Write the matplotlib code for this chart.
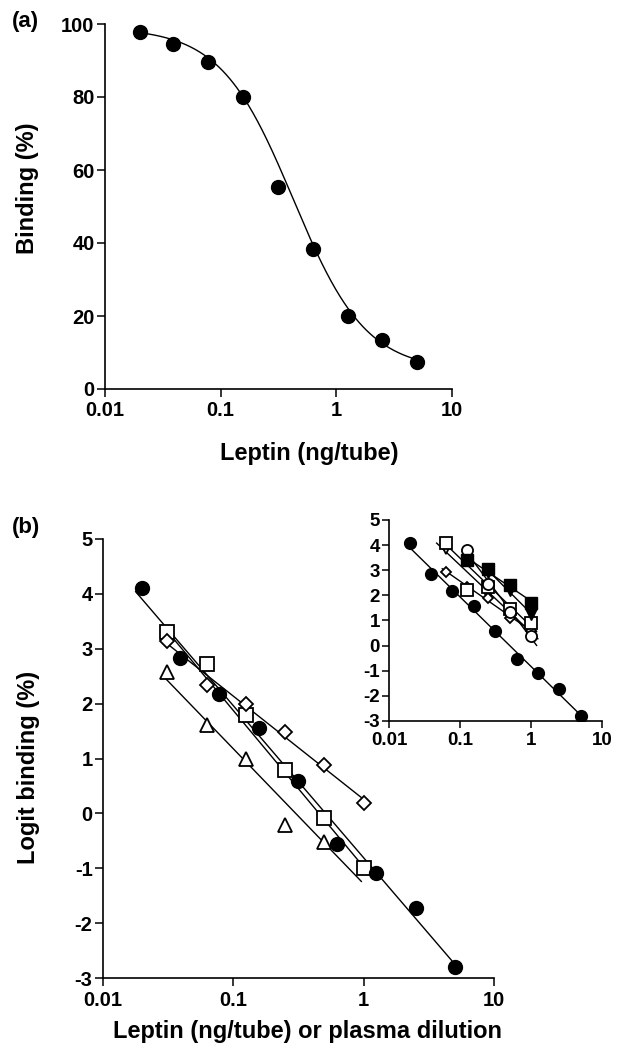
import numpy as np
import matplotlib
matplotlib.use("Agg")
import matplotlib.pyplot as plt
from matplotlib.ticker import FixedLocator, FixedFormatter, NullLocator

plt.rcParams['font.family'] = ['Liberation Sans', 'DejaVu Sans']
plt.rcParams['font.weight'] = 'bold'

# --- panel (a): standard curve ---
dose_a = [0.02, 0.039, 0.078, 0.156, 0.3125, 0.625, 1.25, 2.5, 5.0]
binding_a = [97.7, 94.5, 89.6, 79.9, 55.4, 38.4, 20.1, 13.4, 7.3]
# 4-parameter logistic: top, bottom, ED50, slope
curve_top, curve_bottom, curve_ed50, curve_hill = 99.0, 5.0, 0.424, 1.38

# --- panel (b): logit plots ---
dose_std = [0.02, 0.039, 0.078, 0.156, 0.3125, 0.625, 1.25, 2.5, 5.0]
logit_std = [4.1, 2.84, 2.18, 1.56, 0.59, -0.55, -1.09, -1.72, -2.8]

dil_sq = [0.03125, 0.0625, 0.125, 0.25, 0.5, 1.0]
logit_sq = [3.3, 2.72, 1.8, 0.79, -0.09, -1.0]

dil_dia = [0.03125, 0.0625, 0.125, 0.25, 0.5, 1.0]
logit_dia = [3.15, 2.34, 2.0, 1.49, 0.89, 0.18]

dil_tri = [0.03125, 0.0625, 0.125, 0.25, 0.5]
logit_tri = [2.58, 1.61, 0.99, -0.21, -0.53]

# regression lines as drawn (end points)
fit_std_x, fit_std_y = [0.0178, 4.93], [4.04, -2.73]
fit_sq_x, fit_sq_y = [0.0294, 1.15], [3.39, -1.15]
fit_dia_x, fit_dia_y = [0.03, 1.07], [3.12, 0.2]
fit_tri_x, fit_tri_y = [0.029, 0.96], [2.5, -1.24]

# --- inset ---
ins_osq_x = [0.0625, 0.25, 0.5, 1.0]
ins_osq_y = [4.1, 2.35, 1.45, 0.9]
ins_osq2_x = [0.125]
ins_osq2_y = [2.2]
ins_oci_x = [0.125, 0.25, 0.5, 1.0]
ins_oci_y = [3.8, 2.45, 1.35, 0.4]
ins_fsq_x = [0.125, 0.25, 0.5, 1.0]
ins_fsq_y = [3.4, 3.05, 2.4, 1.7]
ins_ftri_x = [0.25, 0.5, 1.0]
ins_ftri_y = [2.95, 2.2, 1.25]
ins_dia_x = [0.0625, 0.125, 0.25, 0.5, 1.0]
ins_dia_y = [2.95, 2.35, 1.9, 1.1, 0.6]
ins_otri_x = [0.0625, 0.25, 0.5, 1.0]
ins_otri_y = [3.85, 2.0, 1.2, 0.7]

xticks = [0.01, 0.1, 1, 10]
xticklabels = ['0.01', '0.1', '1', '10']
yticks_a = [0, 20, 40, 60, 80, 100]
yticks_b = [-3, -2, -1, 0, 1, 2, 3, 4, 5]

W, H = 621, 1048
fig = plt.figure(figsize=(W / 100, H / 100), dpi=100)


def px_axes(left, top, right, bottom):
    return fig.add_axes([left / W, 1 - bottom / H, (right - left) / W, (bottom - top) / H])


def style_axes(ax, yticks, fs=14.5):
    ax.set_xscale('log')
    ax.set_xlim(0.01, 10)
    ax.xaxis.set_major_locator(FixedLocator(xticks))
    ax.xaxis.set_major_formatter(FixedFormatter(xticklabels))
    ax.xaxis.set_minor_locator(NullLocator())
    ax.set_yticks(yticks)
    ax.set_yticklabels([str(v) for v in yticks])
    for s in ['top', 'right']:
        ax.spines[s].set_visible(False)
    for s in ['left', 'bottom']:
        ax.spines[s].set_linewidth(1.2)
    ax.tick_params(direction='out', length=6, width=1.1, labelsize=fs)
    ax.tick_params(axis='x', pad=3)
    ax.tick_params(axis='y', pad=1.5)
    for lab in ax.get_xticklabels() + ax.get_yticklabels():
        lab.set_fontweight('bold')


def fit_line(ax, x, y, lo=0.9, hi=1.1, lw=1.0):
    lx = np.log10(x)
    k, b = np.polyfit(lx, y, 1)
    xs = np.array([min(x) * lo, max(x) * hi])
    ax.plot(xs, k * np.log10(xs) + b, '-', color='black', lw=lw, zorder=2)


# ---------------- (a) ----------------
ax1 = px_axes(105, 24, 452, 389)
style_axes(ax1, yticks_a)
ax1.set_ylim(0, 100)
xc = np.logspace(np.log10(dose_a[0]), np.log10(dose_a[-1]), 300)
yc = curve_bottom + (curve_top - curve_bottom) / (1 + (xc / curve_ed50) ** curve_hill)
ax1.plot(xc, yc, color='black', lw=1.0, zorder=2)
ax1.plot(dose_a, binding_a, 'o', color='black', ms=10, zorder=3)
ax1.set_ylabel('Binding (%)', fontsize=17, fontweight='bold')
ax1.yaxis.set_label_coords(-0.19, 0.55)
ax1.set_xlabel('Leptin (ng/tube)', fontsize=17, fontweight='bold', va='top')
ax1.xaxis.set_label_coords(0.588, -0.145)
fig.text(12 / W, 1 - 22 / H, '(a)', fontsize=16, fontweight='bold', va='center')

# ---------------- (b) ----------------
ax2 = px_axes(103, 539, 494, 978)
style_axes(ax2, yticks_b)
ax2.set_ylim(-3, 5)
for fx, fy in [(fit_std_x, fit_std_y), (fit_sq_x, fit_sq_y),
               (fit_dia_x, fit_dia_y), (fit_tri_x, fit_tri_y)]:
    ax2.plot(fx, fy, '-', color='black', lw=1.0, zorder=2)
open_kw = dict(linestyle='none', mfc='white', mec='black', mew=1.3, zorder=3)
ax2.plot(dil_sq, logit_sq, 's', ms=10, **open_kw)
ax2.plot(dil_dia, logit_dia, 'D', ms=7, **open_kw)
ax2.plot(dil_tri, logit_tri, '^', ms=9.5, **open_kw)
ax2.plot(dose_std, logit_std, 'o', color='black', ms=10, zorder=4)
ax2.set_ylabel('Logit binding (%)', fontsize=17, fontweight='bold')
ax2.yaxis.set_label_coords(-0.16, 0.48)
ax2.set_xlabel('Leptin (ng/tube) or plasma dilution', fontsize=17,
               fontweight='bold', va='top')
ax2.xaxis.set_label_coords(0.524, -0.095)
fig.text(12 / W, 1 - 527 / H, '(b)', fontsize=16, fontweight='bold', va='center')

# ---------------- inset ----------------
ax3 = px_axes(389, 520, 602, 721)
style_axes(ax3, yticks_b, fs=13.5)
ax3.tick_params(length=5)
ax3.set_ylim(-3, 5)
ax3.patch.set_alpha(0)
fit_line(ax3, dose_std, logit_std, 0.95, 1.0)
fit_line(ax3, ins_osq_x, ins_osq_y, 0.9, 1.2)
fit_line(ax3, ins_oci_x, ins_oci_y, 0.9, 1.2)
fit_line(ax3, ins_fsq_x, ins_fsq_y, 0.9, 1.1)
fit_line(ax3, ins_ftri_x, ins_ftri_y, 0.9, 1.1)
fit_line(ax3, ins_dia_x, ins_dia_y, 0.9, 1.2)
fit_line(ax3, ins_otri_x, ins_otri_y, 0.75, 1.25)
ax3.plot(ins_otri_x, ins_otri_y, 'v', ms=7.5, **open_kw)
ax3.plot(ins_dia_x, ins_dia_y, 'D', ms=5.5, **open_kw)
ax3.plot(ins_osq_x, ins_osq_y, 's', ms=8, **open_kw)
ax3.plot(ins_osq2_x, ins_osq2_y, 's', ms=8, **open_kw)
ax3.plot(ins_oci_x, ins_oci_y, 'o', ms=8, **open_kw)
ax3.plot(ins_fsq_x, ins_fsq_y, 's', color='black', ms=8, zorder=4)
ax3.plot(ins_ftri_x, ins_ftri_y, 'v', color='black', ms=8.5, zorder=4)
ax3.plot(dose_std, logit_std, 'o', color='black', ms=8.5, zorder=4)

fig.savefig('out.png', dpi=100)
